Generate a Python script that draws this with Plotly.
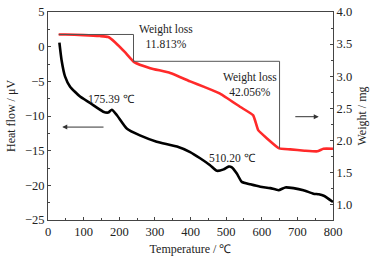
import numpy as np
import plotly.graph_objects as go

# TG curve (weight, mg) vs temperature
T_tg = [30, 48, 100, 146, 169, 188, 216, 242, 287, 343, 399, 440, 483, 540, 576, 590, 615, 649, 680, 720, 756, 773, 800]
w_tg = [3.65, 3.65, 3.64, 3.625, 3.61, 3.53, 3.375, 3.22, 3.125, 3.05, 2.92, 2.83, 2.73, 2.52, 2.39, 2.16, 2.03, 1.875, 1.86, 1.84, 1.83, 1.87, 1.87]

# DSC curve (heat flow, uV) vs temperature
T_dsc = [32, 38, 48, 62, 90, 118, 155, 169, 179, 193, 221, 258, 305, 362, 399, 427, 455, 474, 493, 507, 516, 530, 544, 568, 596, 624, 647, 666, 689, 717, 745, 760, 774, 800]
v_dsc = [0.57, -1.92, -4.33, -5.77, -7.2, -8.13, -9.38, -9.5, -9.1, -9.85, -11.8, -12.8, -13.7, -14.4, -15.2, -16.1, -17.1, -17.9, -17.7, -17.3, -17.4, -18.3, -19.5, -19.85, -20.2, -20.4, -20.7, -20.3, -20.4, -20.7, -21.2, -21.3, -21.5, -22.4]

step_T = [240, 650]
loss_labels = ["Weight loss<br>11.813%", "Weight loss<br>42.056%"]
peak_labels = ["175.39 ℃", "510.20 ℃"]

FONT = "Liberation Serif, Times New Roman, serif"
AX = "#444"

fig = go.Figure()
fig.add_trace(go.Scatter(x=T_dsc, y=v_dsc, mode="lines", line=dict(color="black", width=2.6, shape="spline", smoothing=0.5),
                         showlegend=False))
fig.add_trace(go.Scatter(x=T_tg, y=w_tg, mode="lines", line=dict(color="#ff2a2a", width=2.6, shape="spline", smoothing=0.4),
                         yaxis="y2", showlegend=False))

# step lines (weight-loss brackets), derived from TG data
w0 = w_tg[0]
w1 = float(np.interp(step_T[0], T_tg, w_tg))
w2 = float(np.interp(step_T[1], T_tg, w_tg))
segs = [((T_tg[0], w0), (step_T[0], w0)), ((step_T[0], w0), (step_T[0], w1)),
        ((step_T[0], w1), (step_T[1], w1)), ((step_T[1], w1), (step_T[1], w2))]
shapes = []
for (x0, y0), (x1, y1) in segs:
    shapes.append(dict(type="line", xref="x", yref="y2", x0=x0, y0=y0, x1=x1, y1=y1,
                       line=dict(color="#555", width=1)))

ann = [
    dict(x=330, y=1.4, xref="x", yref="y", text=loss_labels[0], showarrow=False, font=dict(size=11.5)),
    dict(x=568, y=-5.4, xref="x", yref="y", text=loss_labels[1], showarrow=False, font=dict(size=11.5)),
    dict(x=177, y=-7.55, xref="x", yref="y", text=peak_labels[0], showarrow=False, font=dict(size=11.5)),
    dict(x=518, y=-16.1, xref="x", yref="y", text=peak_labels[1], showarrow=False, font=dict(size=11.5)),
    dict(x=40, y=-11.6, ax=160, ay=-11.6, xref="x", yref="y", axref="x", ayref="y", text="", showarrow=True,
         arrowhead=2, arrowsize=1, arrowwidth=1, arrowcolor="#333"),
    dict(x=760, y=-10.1, ax=690, ay=-10.1, xref="x", yref="y", axref="x", ayref="y", text="", showarrow=True,
         arrowhead=2, arrowsize=1, arrowwidth=1, arrowcolor="#333"),
]

fig.update_layout(
    width=381, height=262,
    margin=dict(l=48, r=48, t=12, b=42, autoexpand=False),
    paper_bgcolor="white", plot_bgcolor="white",
    font=dict(family=FONT, size=12.5, color="#222"),
    shapes=shapes, annotations=ann,
    xaxis=dict(range=[0, 800], dtick=100, showgrid=False, zeroline=False, automargin=False,
               showline=True, linecolor=AX, linewidth=1, mirror=True,
               ticks="inside", ticklen=3, tickcolor=AX,
               minor=dict(dtick=50, ticks="inside", ticklen=2, tickcolor=AX),
               title=dict(text="Temperature / ℃", standoff=6, font=dict(size=12))),
    yaxis=dict(range=[-25, 5], dtick=5, showgrid=False, zeroline=False, automargin=False,
               showline=True, linecolor=AX, linewidth=1,
               ticks="inside", ticklen=3, tickcolor=AX,
               minor=dict(dtick=2.5, ticks="inside", ticklen=2, tickcolor=AX),
               title=dict(text="Heat flow / μV", standoff=6, font=dict(size=12))),
    yaxis2=dict(range=[0.76, 4.0], dtick=0.5, tickformat=".1f", overlaying="y", side="right",
                showgrid=False, zeroline=False, showline=True, linecolor=AX, linewidth=1, automargin=False,
                ticks="inside", ticklen=3, tickcolor=AX,
                minor=dict(dtick=0.25, ticks="inside", ticklen=2, tickcolor=AX),
                title=dict(text="Weight / mg", standoff=6, font=dict(size=12))),
)

fig.write_html("out.html", config={"displayModeBar": False},
               post_script="document.body.style.margin='0';document.body.style.overflow='hidden';")
